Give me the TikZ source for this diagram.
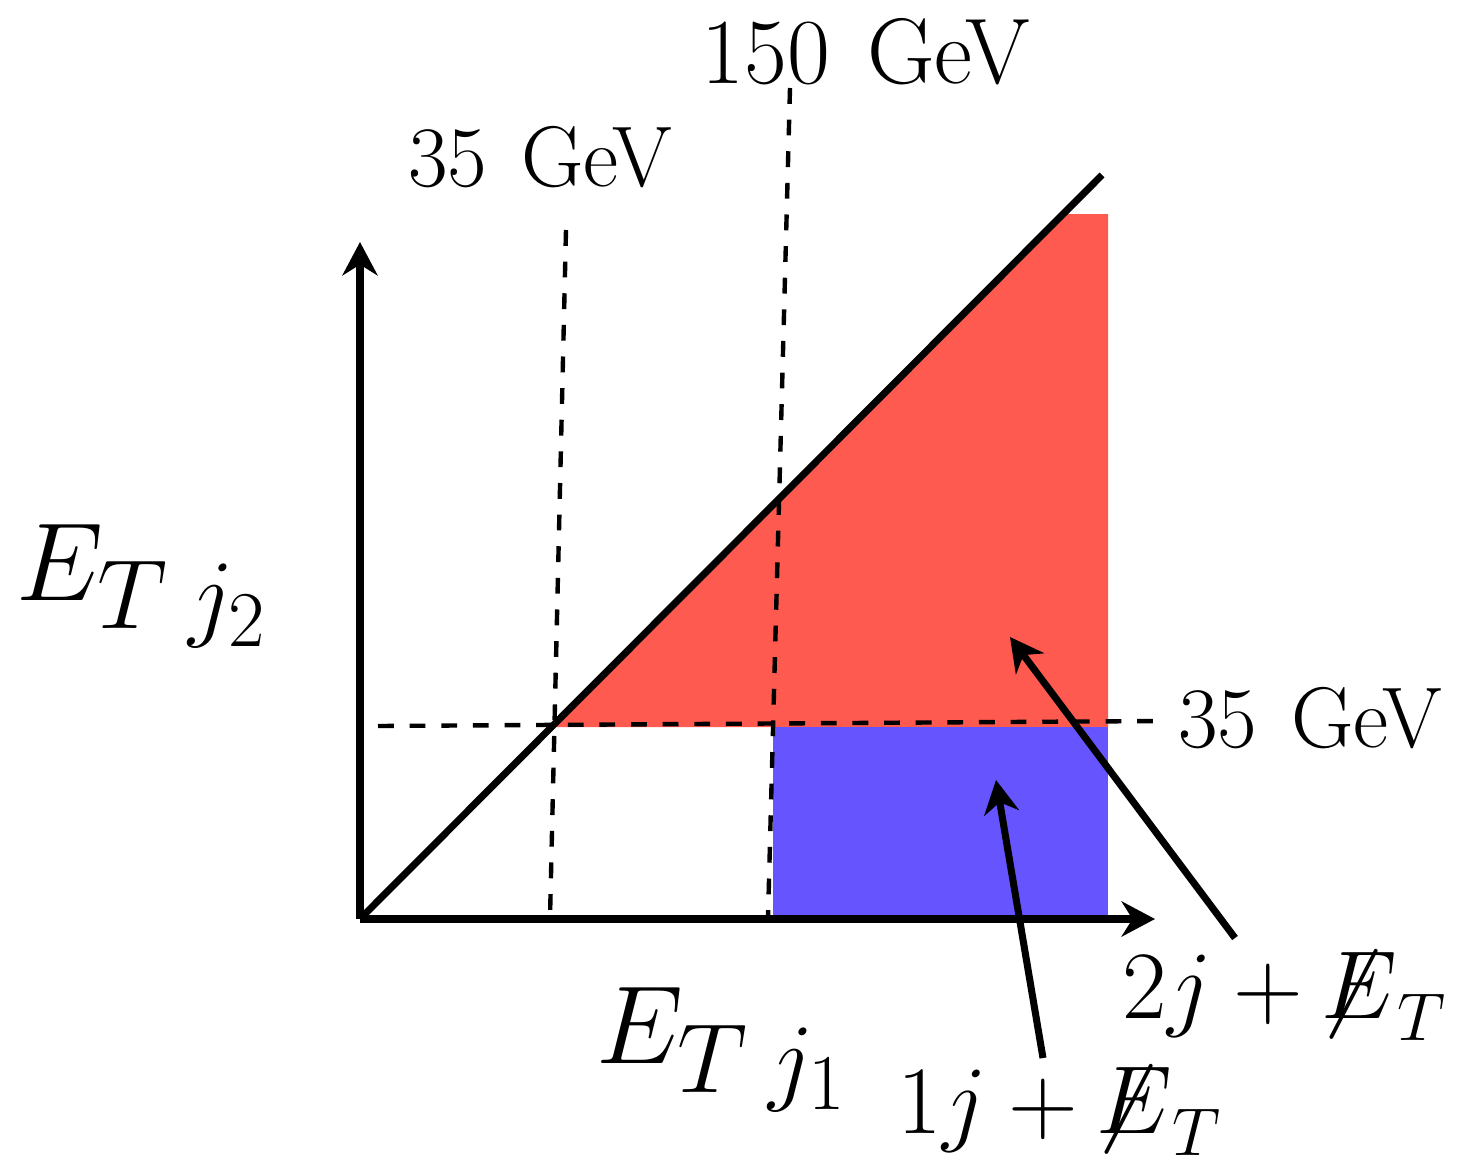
\RequirePackage{fix-cm}
\documentclass[tikz,border=0pt]{standalone}
\usetikzlibrary{arrows.meta}
\definecolor{hotred}{RGB}{255,90,80}
\definecolor{softblue}{RGB}{102,85,255}
\DeclareMathSizes{31.6}{31.6}{28}{22.5}
\newcommand{\slashE}{{\mkern-1.5mu\not\mkern-4mu E}}
\begin{document}
\begin{tikzpicture}[>={Stealth[length=9.5pt,width=10pt]},
  axis/.style={line width=2pt,->},
  cut/.style={line width=1.25pt,dash pattern=on 4.5pt off 4.5pt},
  gev/.style={inner sep=0pt,font=\fontsize{24.5}{28}\selectfont},
  big/.style={inner sep=0pt,font=\fontsize{31.6}{36}\selectfont},
  proc/.style={inner sep=0pt,font=\fontsize{27.5}{31}\selectfont}]
\useasboundingbox (0,0) rectangle (14.57,11.62);
% Punkte
\coordinate (O) at (3.60,2.43);
\coordinate (ytip) at (3.60,9.20);
\coordinate (xtip) at (11.55,2.43);
\coordinate (dend) at (11.02,9.87);
% Regionen
\fill[hotred] (5.53,4.35) -- (10.65,9.48) -- (11.08,9.48) -- (11.08,4.35) -- cycle;
\fill[softblue] (7.73,2.43) rectangle (11.08,4.35);
% Schnitte
\coordinate (h1) at (3.78,4.36);
\coordinate (h2) at (11.65,4.41);
\coordinate (v1a) at (5.66,9.32);
\coordinate (v1b) at (5.50,2.44);
\coordinate (v2a) at (7.90,10.74);
\coordinate (v2b) at (7.68,2.44);
\draw[cut] (h1) -- (h2);
\draw[cut] (v1a) -- (v1b);
\draw[cut] (v2a) -- (v2b);
\node[gev] (c35a) at (5.40,10.05) {35\hspace{0.4em}GeV};
\node[gev,font=\fontsize{26.5}{30}\selectfont] (c150) at (8.66,11.10) {150\hspace{0.4em}GeV};
\node[gev] (c35b) at (13.10,4.44) {35\hspace{0.4em}GeV};
% Achsen
\draw[axis] (O) -- (ytip);
\draw[axis] (O) -- (xtip);
\draw[line width=2pt] (O) -- (dend);
\node[big,anchor=base west] (ej2) at (0.16,5.62) {$E_{T\mskip4mu j_2}$};
\node[big,anchor=base west] (ej1) at (5.96,0.99) {$E_{T\mskip4mu j_1}$};
% Prozesse
\node[proc] (two) at (12.85,1.66) {$2j+\slashE_T$};
\node[proc] (one) at (10.60,0.51) {$1j+\slashE_T$};
\coordinate (s2) at (12.35,2.24);
\coordinate (t2) at (10.10,5.25);
\coordinate (s1) at (10.43,1.04);
\coordinate (t1) at (9.96,3.82);
\draw[->,line width=2pt] (s2) -- (t2);
\draw[->,line width=2pt] (s1) -- (t1);
\end{tikzpicture}
\end{document}
